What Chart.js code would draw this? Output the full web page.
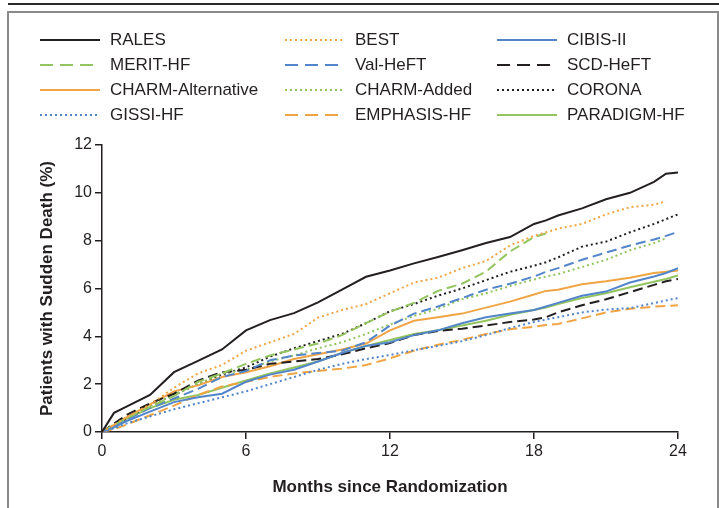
<!DOCTYPE html>
<html>
<head>
<meta charset="utf-8">
<script src="https://cdn.jsdelivr.net/npm/chart.js@4/dist/chart.umd.min.js"></script>
<style>
  body { margin: 0; background: #fff; }
  #wrap { position: relative; width: 719px; height: 508px; overflow: hidden; }
  .topline { position: absolute; left: 8px; top: 3px; width: 711px; height: 2px; background: #2b2b2b; }
  .box { position: absolute; left: 7px; top: 11px; width: 708px; height: 520px; border: 2px solid #8a8a8a; }
  #c { position: absolute; left: 0; top: 0; }
  #legend { position: absolute; left: 0; top: 0; width: 719px; height: 140px; }
  .item { position: absolute; height: 22px; display: flex; align-items: center;
          font-family: "Liberation Sans Narrow", "Liberation Sans", sans-serif; font-size: 17px; color: #231f20; }
  .item svg { margin-right: 10px; }
</style>
</head>
<body>
<div id="wrap">
  <div class="topline"></div>
  <div class="box"></div>
  <canvas id="c" width="719" height="508"></canvas>
  <div id="legend"></div>
</div>
<script>
// months since randomization (extra points at 0.5, 18.5, 23.5)
const months = [0, 0.5, 1, 2, 3, 4, 5, 6, 7, 8, 9, 10, 11, 12, 13, 14, 15, 16, 17, 18, 18.5, 19, 20, 21, 22, 23, 23.5, 24];

const rales      = [0, 0.8, 1.05, 1.55, 2.5, 2.97, 3.45, 4.25, 4.68, 4.97, 5.42, 5.95, 6.49, 6.75, 7.05, 7.32, 7.6, 7.9, 8.15, 8.7, 8.85, 9.05, 9.35, 9.73, 10.0, 10.46, 10.8, 10.85];
const best       = [0, 0.3, 0.6, 1.15, 1.85, 2.45, 2.8, 3.4, 3.75, 4.1, 4.78, 5.1, 5.35, 5.8, 6.25, 6.45, 6.85, 7.15, 7.8, 8.2, 8.35, 8.5, 8.7, 9.1, 9.4, 9.5, 9.65, null];
const cibis      = [0, 0.2, 0.45, 0.85, 1.25, 1.45, 1.6, 2.1, 2.4, 2.6, 2.95, 3.3, 3.6, 3.75, 4.05, 4.25, 4.55, 4.8, 4.95, 5.1, 5.25, 5.4, 5.7, 5.87, 6.25, 6.5, 6.65, 6.85];
const merit      = [0, 0.3, 0.55, 1.05, 1.5, 2.1, 2.45, 2.85, 3.2, 3.45, 3.7, 4.05, 4.55, 5.03, 5.4, 5.9, 6.2, 6.7, 7.55, 8.15, 8.3, null, null, null, null, null, null, null];
const valheft    = [0, 0.25, 0.5, 1.0, 1.4, 1.8, 2.3, 2.55, 3.0, 3.2, 3.3, 3.4, 3.75, 4.45, 4.95, 5.25, 5.6, 5.95, 6.2, 6.5, 6.7, 6.85, 7.2, 7.5, 7.8, 8.05, 8.2, 8.37];
const scdheft    = [0, 0.35, 0.7, 1.2, 1.6, 2.15, 2.5, 2.6, 2.85, 2.95, 3.05, 3.25, 3.5, 3.72, 4.05, 4.22, 4.32, 4.45, 4.6, 4.7, 4.8, 5.0, 5.3, 5.55, 5.85, 6.15, 6.3, 6.4];
const charmAlt   = [0, 0.3, 0.6, 1.15, 1.7, 1.95, 2.3, 2.5, 2.75, 3.05, 3.25, 3.45, 3.7, 4.25, 4.65, 4.8, 4.95, 5.2, 5.45, 5.75, 5.9, 5.95, 6.18, 6.3, 6.45, 6.65, 6.7, 6.75];
const charmAdded = [0, 0.3, 0.6, 1.1, 1.55, 2.0, 2.45, 2.6, 2.95, 3.2, 3.5, 3.75, 4.1, 4.5, 4.85, 5.15, 5.55, 5.8, 6.1, 6.38, 6.5, 6.6, 6.9, 7.2, 7.6, 7.9, 8.1, null];
const corona     = [0, 0.25, 0.55, 1.1, 1.55, 2.0, 2.4, 2.7, 3.15, 3.5, 3.8, 4.1, 4.55, 5.05, 5.35, 5.7, 6.0, 6.35, 6.7, 6.95, 7.1, 7.3, 7.75, 7.96, 8.35, 8.7, 8.9, 9.1];
const gissi      = [0, 0.15, 0.35, 0.65, 0.95, 1.2, 1.45, 1.7, 2.0, 2.3, 2.6, 2.85, 3.05, 3.22, 3.42, 3.6, 3.8, 4.05, 4.35, 4.6, 4.7, 4.8, 5.0, 5.12, 5.18, 5.39, 5.5, 5.6];
const emphasis   = [0, 0.12, 0.3, 0.7, 1.1, 1.55, 1.9, 2.1, 2.3, 2.45, 2.55, 2.65, 2.8, 3.08, 3.4, 3.65, 3.85, 4.1, 4.3, 4.4, 4.47, 4.52, 4.75, 5.0, 5.15, 5.24, 5.27, 5.3];
const paradigm   = [0, 0.25, 0.55, 1.0, 1.35, 1.55, 1.85, 2.15, 2.45, 2.7, 2.95, 3.3, 3.6, 3.85, 4.1, 4.25, 4.45, 4.65, 4.9, 5.1, 5.2, 5.35, 5.6, 5.8, 6.05, 6.28, 6.4, 6.55];

const yTicks = [0, 2, 4, 6, 8, 10, 12];
const xTicks = [0, 6, 12, 18, 24];

const BLACK = "#231f20", ORANGE = "#f0a545", BLUE = "#5285c9", GREEN = "#93c55e";
const SOLID = [], DOT = [2, 3], DASH = [10, 5];

const series = [
    { label: "RALES", data: rales, color: BLACK, dash: SOLID },
    { label: "BEST", data: best, color: ORANGE, dash: DOT },
    { label: "CIBIS-II", data: cibis, color: BLUE, dash: SOLID },
    { label: "MERIT-HF", data: merit, color: GREEN, dash: DASH },
    { label: "Val-HeFT", data: valheft, color: BLUE, dash: DASH },
    { label: "SCD-HeFT", data: scdheft, color: BLACK, dash: DASH },
    { label: "CHARM-Alternative", data: charmAlt, color: ORANGE, dash: SOLID },
    { label: "CHARM-Added", data: charmAdded, color: GREEN, dash: DOT },
    { label: "CORONA", data: corona, color: BLACK, dash: DOT },
    { label: "GISSI-HF", data: gissi, color: BLUE, dash: DOT },
    { label: "EMPHASIS-HF", data: emphasis, color: ORANGE, dash: DASH },
    { label: "PARADIGM-HF", data: paradigm, color: GREEN, dash: SOLID }
];

// legend in 3 columns, 4 rows
const legendX = [40, 285, 497];
let legend = document.getElementById("legend");
series.forEach((s, i) => {
    let col = i % 3, row = Math.floor(i / 3);
    let div = document.createElement("div");
    div.className = "item";
    div.style.left = legendX[col] + "px";
    div.style.top = (29 + row * 25) + "px";
    let dashAttr = s.dash === DOT ? 'stroke-dasharray="2 3"' : (s.dash === DASH ? 'stroke-dasharray="13 7"' : "");
    div.innerHTML = '<svg width="60" height="6"><line x1="0" y1="3" x2="60" y2="3" stroke="' + s.color +
        '" stroke-width="2" ' + dashAttr + '/></svg><span>' + s.label + '</span>';
    legend.appendChild(div);
});

const FONT = "'Liberation Sans Narrow', 'Liberation Sans', sans-serif";

const ctx = document.getElementById("c").getContext("2d");
new Chart(ctx, {
    type: "line",
    data: {
        datasets: series.map(s => ({
            label: s.label,
            data: months.map((m, i) => ({ x: m, y: s.data[i] })),
            borderColor: s.color,
            borderDash: s.dash,
            borderWidth: 2,
            pointRadius: 0,
            tension: 0,
            fill: false
        }))
    },
    options: {
        responsive: false,
        animation: false,
        devicePixelRatio: 1,
        layout: { padding: { left: 33, top: 145, right: 41, bottom: 0 } },
        plugins: {
            legend: { display: false },
            tooltip: { enabled: false }
        },
        scales: {
            x: {
                type: "linear",
                min: 0,
                max: 24,
                afterBuildTicks: scale => { scale.ticks = xTicks.map(v => ({ value: v })); },
                ticks: { color: BLACK, font: { family: FONT, size: 16 }, padding: 3, maxRotation: 0 },
                grid: { drawOnChartArea: false, drawTicks: true, tickLength: 7, color: BLACK, lineWidth: 1.5 },
                border: { display: true, color: BLACK, width: 1.5 },
                title: { display: true, text: "Months since Randomization", color: BLACK,
                         font: { family: FONT, size: 17, weight: "bold" }, padding: { top: 4, bottom: 10 } },
                afterFit: scale => { scale.height = 76; }
            },
            y: {
                min: 0,
                max: 12,
                afterBuildTicks: scale => { scale.ticks = yTicks.map(v => ({ value: v })); },
                ticks: { color: BLACK, font: { family: FONT, size: 16 }, padding: 3 },
                grid: { drawOnChartArea: false, drawTicks: true, tickLength: 7, color: BLACK, lineWidth: 1.5 },
                border: { display: true, color: BLACK, width: 1.5 },
                title: { display: true, text: "Patients with Sudden Death (%)", color: BLACK,
                         font: { family: FONT, size: 17, weight: "bold" }, padding: { bottom: 6 } },
                afterFit: scale => { scale.width = 69; }
            }
        }
    }
});
</script>
</body>
</html>
